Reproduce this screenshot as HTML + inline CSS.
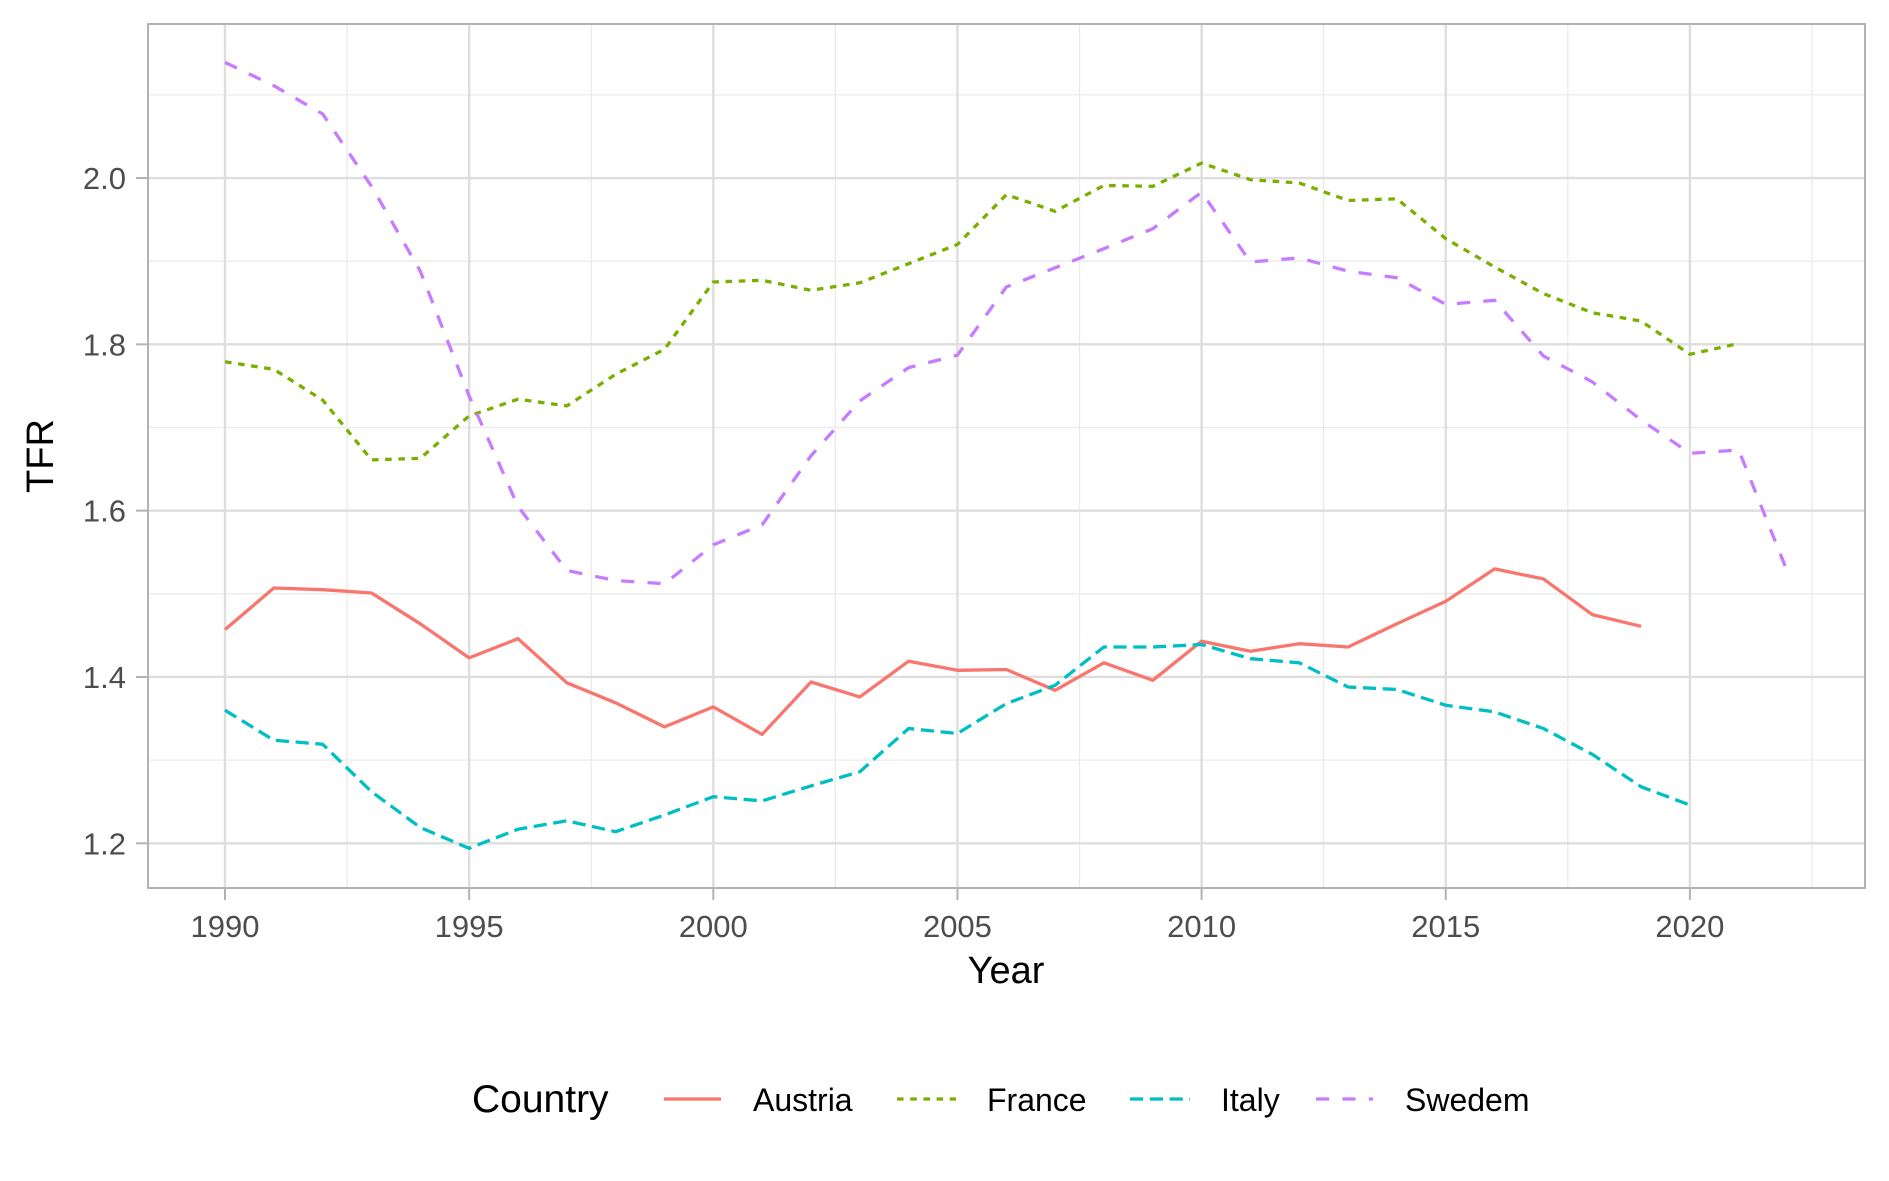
<!DOCTYPE html>
<html><head><meta charset="utf-8"><style>
body{margin:0;background:#fff}
svg{display:block;font-family:"Liberation Sans",Arial,sans-serif}
</style></head><body>
<svg id="chart" width="1889" height="1181" viewBox="0 0 1889 1181">
<g id="grid"></g>
<g id="series"></g>
<rect x="148" y="24" width="1717" height="864" fill="none" stroke="#b3b3b3" stroke-width="2"/>
<g id="axes"></g>
<text x="1006" y="983" font-size="38" text-anchor="middle" fill="#000">Year</text>
<text transform="translate(53,456) rotate(-90)" font-size="38" text-anchor="middle" fill="#000">TFR</text>
<g id="legend">
<text x="472" y="1112" font-size="39" fill="#000">Country</text>
</g>
</svg>
<script>
const years = [];
for (let y = 1990; y <= 2022; y++) years.push(y);
const austria = [1.457,1.507,1.505,1.501,1.464,1.423,1.446,1.393,1.369,1.340,1.364,1.331,1.394,1.376,1.419,1.408,1.409,1.384,1.417,1.396,1.443,1.431,1.440,1.436,1.464,1.491,1.530,1.518,1.475,1.461];
const france = [1.779,1.770,1.733,1.661,1.663,1.714,1.734,1.726,1.764,1.794,1.875,1.877,1.865,1.874,1.897,1.920,1.980,1.960,1.991,1.990,2.018,1.998,1.994,1.973,1.975,1.927,1.893,1.861,1.838,1.828,1.788,1.801];
const italy = [1.360,1.324,1.319,1.262,1.219,1.194,1.217,1.227,1.214,1.234,1.256,1.251,1.269,1.286,1.338,1.332,1.368,1.390,1.436,1.436,1.439,1.422,1.417,1.388,1.385,1.366,1.358,1.338,1.307,1.268,1.246];
const sweden = [2.139,2.111,2.077,1.990,1.888,1.738,1.605,1.528,1.516,1.512,1.559,1.583,1.666,1.732,1.772,1.787,1.869,1.892,1.915,1.939,1.983,1.899,1.904,1.888,1.880,1.848,1.853,1.786,1.755,1.709,1.669,1.673,1.526];
const xTicks = [1990,1995,2000,2005,2010,2015,2020];
const yTicks = [1.2,1.4,1.6,1.8,2.0];
const yTickLabels = ["1.2","1.4","1.6","1.8","2.0"];

const NS = "http://www.w3.org/2000/svg";
function X(yr){ return 225 + (yr - 1990) * 48.83; }
function Y(v){ return 843.3 - (v - 1.2) * 831.6; }
function mk(tag, attrs, parent){ const e = document.createElementNS(NS, tag); for (const k in attrs) e.setAttribute(k, attrs[k]); parent.appendChild(e); return e; }

const grid = document.getElementById('grid');
const axes = document.getElementById('axes');
for (let yr = 1992.5; yr <= 2022.5; yr += 5) {
  const l = mk('line', {x1:X(yr), x2:X(yr), y1:24, y2:888, stroke:'#ebebeb', 'stroke-width':1.3}, grid);
  
  
}
for (let v = 1.3; v <= 2.15; v += 0.2) {
  const l = mk('line', {x1:148, x2:1865, y1:Y(v), y2:Y(v), stroke:'#ebebeb', 'stroke-width':1.3}, grid);
  
  
}
xTicks.forEach(t => {
  const l = mk('line', {x1:X(t), x2:X(t), y1:24, y2:888, stroke:'#dedede', 'stroke-width':2.4}, grid);
  
  
  const tk = mk('line', {x1:X(t), x2:X(t), y1:888, y2:900, stroke:'#b3b3b3', 'stroke-width':2}, axes);
  
  
  const tx = mk('text', {x:X(t), y:937, 'font-size':31, 'text-anchor':'middle', fill:'#4d4d4d'}, axes);
  tx.textContent = t;
  
  
});
yTicks.forEach((t, i) => {
  const l = mk('line', {x1:148, x2:1865, y1:Y(t), y2:Y(t), stroke:'#dedede', 'stroke-width':2.4}, grid);
  
  
  const tk = mk('line', {x1:136, x2:148, y1:Y(t), y2:Y(t), stroke:'#b3b3b3', 'stroke-width':2}, axes);
  
  
  const tx = mk('text', {x:126, y:Y(t)+11, 'font-size':31, 'text-anchor':'end', fill:'#4d4d4d'}, axes);
  tx.textContent = yTickLabels[i];
  
  
});

const seriesDefs = [
  {name:'Austria', vals:austria, color:'#f8766d', dash:'none', key:[664,721], tx:753},
  {name:'France', vals:france, color:'#7cae00', dash:'6.6 6.6', key:[897,956], tx:987},
  {name:'Italy', vals:italy, color:'#00bfc4', dash:'13.2 6.6', key:[1130,1190], tx:1221},
  {name:'Swedem', vals:sweden, color:'#c77cff', dash:'13.2 13.2', key:[1316,1373], tx:1405}
];
const sg = document.getElementById('series');
const lg = document.getElementById('legend');
seriesDefs.forEach(s => {
  const pts = s.vals.map((v, i) => X(years[i]).toFixed(1) + ',' + Y(v).toFixed(1)).join(' ');
  const p = mk('polyline', {points:pts, fill:'none', stroke:s.color, 'stroke-width':3.3, 'stroke-dasharray':s.dash, 'stroke-linejoin':'round'}, sg);
  
  
  const k = mk('line', {x1:s.key[0], x2:s.key[1], y1:1099, y2:1099, stroke:s.color, 'stroke-width':3.3, 'stroke-dasharray':s.dash}, lg);
  
  
  const t = mk('text', {x:s.tx, y:1111, 'font-size':32, fill:'#000'}, lg);
  t.textContent = s.name;
  
  
});
</script>
</body></html>
